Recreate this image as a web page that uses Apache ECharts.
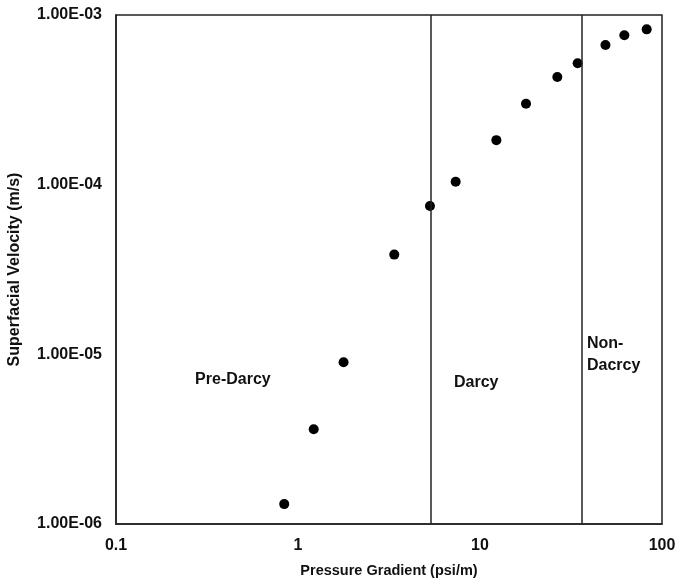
<!DOCTYPE html>
<html>
<head>
<meta charset="utf-8">
<script src="https://cdn.jsdelivr.net/npm/echarts@6/dist/echarts.min.js"></script>
<style>
  html, body { margin: 0; padding: 0; background: #fff; }
  #chart { width: 685px; height: 587px; }
</style>
</head>
<body>
<div id="chart"></div>
<script>
// pressure gradient (psi/m) vs superficial velocity (m/s)
var gradient = [0.84, 1.22, 1.78, 3.38, 5.31, 7.35, 12.3, 17.9, 26.6, 34.4, 48.9, 62.1, 82.4];
var velocity = [1.31e-6, 3.62e-6, 8.98e-6, 3.87e-5, 7.49e-5, 1.04e-4, 1.83e-4, 3.0e-4, 4.31e-4, 5.19e-4, 6.66e-4, 7.59e-4, 8.23e-4];

// regime boundaries
var boundaries = [5.38, 36.4];

// regime labels [x, y, text]
var regimeLabels = [
    [0.272, 7.06e-6, 'Pre-Darcy'],
    [7.2, 6.8e-6, 'Darcy'],
    [38.7, 1.0e-5, 'Non-\nDacrcy']
];

var points = [];
for (var i = 0; i < gradient.length; i++) {
    points.push([gradient[i], velocity[i]]);
}

function sci(v) {
    var e = Math.round(Math.log10(v));
    var m = v / Math.pow(10, e);
    var s = Math.abs(e) < 10 ? '0' + Math.abs(e) : '' + Math.abs(e);
    return m.toFixed(2) + 'E' + (e < 0 ? '-' : '+') + s;
}

var font = 'Liberation Sans, Arial, sans-serif';
var chart = echarts.init(document.getElementById('chart'));

var option = {
    animation: false,
    backgroundColor: '#fff',
    grid: {
        left: 116,
        top: 15,
        right: 23,
        bottom: 63,
        show: true,
        borderColor: '#222',
        borderWidth: 1.5,
        containLabel: false,
        outerBoundsMode: 'none'
    },
    xAxis: {
        type: 'log',
        logBase: 10,
        min: 0.1,
        max: 100,
        name: 'Pressure Gradient (psi/m)',
        nameLocation: 'middle',
        nameGap: 39,
        nameTextStyle: { fontFamily: font, fontWeight: 'bold', fontSize: 14.5, color: '#111' },
        axisLine: { show: true, lineStyle: { color: '#222', width: 1.5 } },
        axisTick: { show: false },
        splitLine: { show: false },
        minorTick: { show: false },
        axisLabel: {
            fontFamily: font, fontWeight: 'bold', fontSize: 16, color: '#111', margin: 14,
            formatter: function (v) { return String(+v.toPrecision(3)); }
        }
    },
    yAxis: {
        type: 'log',
        logBase: 10,
        min: 1e-6,
        max: 1e-3,
        name: 'Superfacial Velocity (m/s)',
        nameLocation: 'middle',
        nameGap: 93,
        nameRotate: 90,
        nameTextStyle: { fontFamily: font, fontWeight: 'bold', fontSize: 16, color: '#111' },
        axisLine: { show: true, lineStyle: { color: '#222', width: 1.5 } },
        axisTick: { show: false },
        splitLine: { show: false },
        axisLabel: {
            fontFamily: font, fontWeight: 'bold', fontSize: 16, color: '#111', margin: 14,
            formatter: function (v) { return sci(v); }
        }
    },
    series: [
        {
            type: 'scatter',
            data: points,
            symbol: 'circle',
            symbolSize: 10,
            itemStyle: { color: '#000', opacity: 1 },
            markLine: {
                silent: true,
                symbol: ['none', 'none'],
                label: { show: false },
                lineStyle: { color: '#222', width: 1.5, type: 'solid' },
                data: boundaries.map(function (b) { return { xAxis: b }; })
            },
            markPoint: {
                silent: true,
                symbol: 'circle',
                symbolSize: 0,
                itemStyle: { color: '#111' },
                label: {
                    show: true,
                    position: 'right',
                    distance: 0,
                    align: 'left',
                    verticalAlign: 'middle',
                    fontFamily: font,
                    fontWeight: 'bold',
                    fontSize: 16,
                    lineHeight: 22,
                    color: '#111',
                    formatter: function (p) { return p.name; }
                },
                data: regimeLabels.map(function (r) { return { coord: [r[0], r[1]], name: r[2] }; })
            }
        }
    ]
};

chart.setOption(option);
</script>
</body>
</html>
